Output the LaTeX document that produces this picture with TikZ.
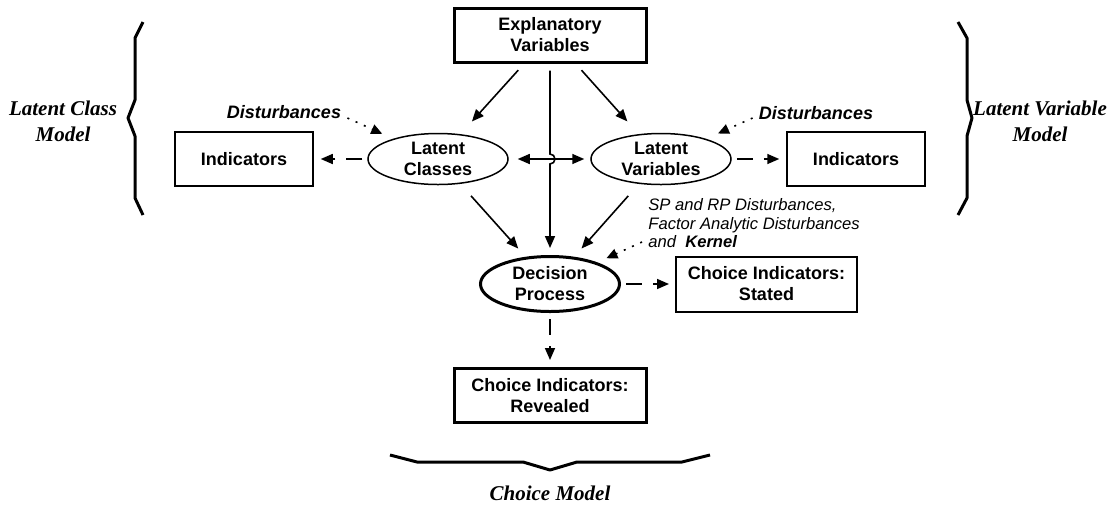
\documentclass[tikz,border=0pt]{standalone}
\usepackage{fontspec}
\setmainfont{Liberation Serif}
\setsansfont{Liberation Sans}
\usepackage{tikz}
\usetikzlibrary{arrows.meta,calc,positioning,shapes}

\newcommand{\boxfnt}{\fontsize{9}{10.5}\selectfont\sffamily\bfseries}
\newcommand{\distfnt}{\fontsize{9}{10.5}\selectfont\sffamily\bfseries\itshape}
\newcommand{\notefnt}{\fontsize{8.3}{9.3}\selectfont\sffamily\itshape}
\newcommand{\modelfnt}{\fontsize{10.5}{13}\selectfont\rmfamily\bfseries\itshape}

\begin{document}
\begin{tikzpicture}[x=0.5pt,y=-0.5pt,
	>={Triangle[length=6pt,width=5pt]},
	latent/.style={ellipse,draw,line width=0.75pt,inner sep=0pt,minimum width=70pt,minimum height=25.5pt,align=center,font=\boxfnt},
	process/.style={latent,line width=1.5pt,minimum width=69.5pt,minimum height=27.5pt},
	manifest/.style={rectangle,draw,line width=0.75pt,inner sep=0pt,minimum width=69pt,minimum height=27pt,align=center,font=\boxfnt},
	exog/.style={manifest,line width=1.5pt,minimum width=96pt},
	stated/.style={manifest,line width=1pt,minimum width=90.5pt,minimum height=27.5pt},
	dist/.style={inner sep=0pt,font=\distfnt},
	note/.style={inner sep=0pt,align=left,font=\notefnt},
	model/.style={inner sep=0pt,align=center,font=\modelfnt},
	paths/.style={->, line width=0.8pt},
	dpaths/.style={paths, dash pattern=on 8pt off 5.5pt},
	errpaths/.style={->, >={Triangle[length=5.5pt,width=5pt]}, line width=0.8pt, dash pattern=on 1pt off 3.5pt},
	brace/.style={line width=1.5pt, line join=round}
	]
\useasboundingbox (0,0) rectangle (1115,505);

% structural part
\node [exog] (expl) at (550,35) {Explanatory\\Variables};
\node [latent] (lc) at (438,159) {Latent\\Classes};
\node [latent] (lv) at (661,159) {Latent\\Variables};
\node [process] (dec) at (550,284) {Decision\\Process};

% indicators
\node [manifest] (indl) [left=26.75pt of lc] {Indicators};
\node [manifest] (indr) [right=27.25pt of lv] {Indicators};
\node [stated] (cis) [right=27pt of dec] {Choice Indicators:\\Stated};
\node [exog] (cir) [below=27pt of dec] {Choice Indicators:\\Revealed};

% disturbances
\node [dist] (dl) at (284,112) {Disturbances};
\node [dist] (dr) at (816,113) {Disturbances};
\node [note, anchor=north west] (sp) at (648,198) {SP and RP Disturbances,\\Factor Analytic Disturbances\\and\ \ \textbf{Kernel}};
\coordinate (kern) at (642,242);

% model labels
\node [model] (lcm) at (63,121) {Latent Class\\Model};
\node [model] (lvm) at (1040,121) {Latent Variable\\Model};
\node [model] (cm) at (550,493) {Choice Model};

% solid paths
\draw [paths, shorten <=4.5pt, shorten >=8.5pt] (expl) -- (lc);
\draw [paths, shorten <=4.5pt, shorten >=8.5pt] (expl) -- (lv);
\draw [paths, shorten <=8pt, shorten >=5.5pt] (lc) -- (dec);
\draw [paths, shorten <=8pt, shorten >=5.5pt] (lv) -- (dec);
\draw [paths, <->, shorten <=4.5pt, shorten >=3pt] (lc) -- (lv);
\draw [paths, shorten <=3.5pt, shorten >=3.5pt] (expl.south) -- ($(expl.south |- lc.center)+(0,-5)$)
	arc [start angle=90, end angle=-90, radius=2.5pt] -- (dec.north);

% measurement paths
\draw [dpaths, shorten <=2.5pt, shorten >=3.5pt] (lc) -- (indl);
\draw [dpaths, shorten <=2.5pt, shorten >=3.5pt] (lv) -- (indr);
\draw [dpaths, shorten <=2.5pt, shorten >=3pt] (dec) -- (cis);
\draw [dpaths, shorten <=3pt, shorten >=3.5pt] (dec) -- (cir);

% error terms
\draw [errpaths, shorten >=6pt] ([xshift=3pt,yshift=-3pt]dl.east) -- (lc);
\draw [errpaths, shorten >=6.5pt] ([xshift=-3pt,yshift=-2.5pt]dr.west) -- (lv);
\draw [errpaths, shorten >=5pt] (kern) -- (dec);

% braces
\draw [brace] (143,22) -- (135,38) -- (135,100) -- (128,118) -- (135,136) -- (135,198) -- (143,215);
\draw [brace] (958,22) -- (967,38) -- (967,100) -- (972,118) -- (967,136) -- (967,198) -- (958,215);
\draw [brace] (390,455) -- (417,462) -- (523,462) -- (550,470) -- (577,462) -- (682,462) -- (710,455);
\end{tikzpicture}
\end{document}
